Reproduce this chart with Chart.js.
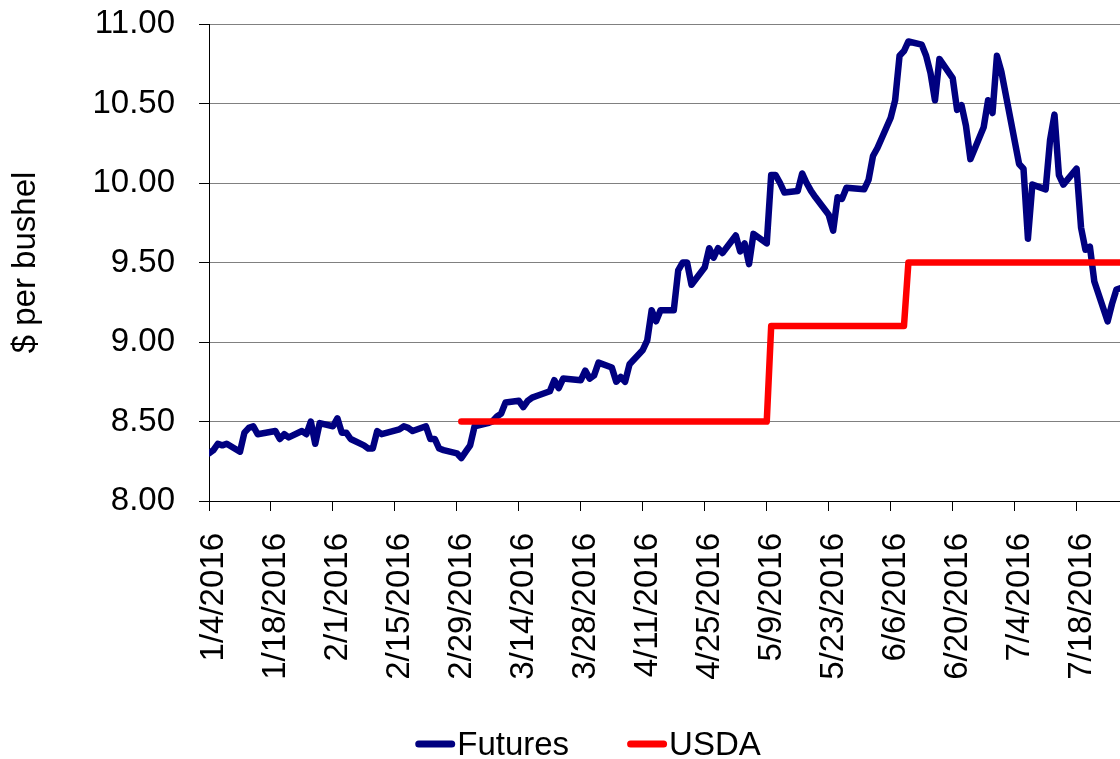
<!DOCTYPE html>
<html>
<head>
<meta charset="utf-8">
<script src="https://cdn.jsdelivr.net/npm/chart.js@4"></script>
<style>
  html, body { margin: 0; padding: 0; background: #fff; }
</style>
</head>
<body>
<canvas id="grafico" width="1120" height="759"></canvas>

<script>
// datas de pregão (2016) e preços dos futuros
const futuresDates = [
  '1/4','1/5','1/6','1/7','1/8','1/11','1/12','1/13','1/14','1/15',
  '1/19','1/20','1/21','1/22','1/25','1/26','1/27','1/28','1/29',
  '2/1','2/2','2/3','2/4','2/5','2/8','2/9','2/10','2/11','2/12',
  '2/16','2/17','2/18','2/19','2/22','2/23','2/24','2/25','2/26',
  '2/29','3/1','3/2','3/3','3/4','3/7','3/8','3/9','3/10','3/11',
  '3/14','3/15','3/16','3/17','3/18','3/21','3/22','3/23','3/24',
  '3/28','3/29','3/30','3/31','4/1','4/4','4/5','4/6','4/7','4/8',
  '4/11','4/12','4/13','4/14','4/15','4/18','4/19','4/20','4/21','4/22',
  '4/25','4/26','4/27','4/28','4/29','5/2','5/3','5/4','5/5','5/6',
  '5/9','5/10','5/11','5/12','5/13','5/16','5/17','5/18','5/19','5/20',
  '5/23','5/24','5/25','5/26','5/27','5/31','6/1','6/2','6/3',
  '6/6','6/7','6/8','6/9','6/10','6/13','6/14','6/15','6/16','6/17',
  '6/20','6/21','6/22','6/23','6/24','6/27','6/28','6/29','6/30','7/1',
  '7/5','7/6','7/7','7/8','7/11','7/12','7/13','7/14','7/15',
  '7/18','7/19','7/20','7/21','7/22','7/25','7/26','7/27','7/28'
];
const futuresValues = [
  8.30, 8.32, 8.36, 8.35, 8.36, 8.31, 8.43, 8.46, 8.47, 8.42,
  8.44, 8.39, 8.42, 8.40, 8.44, 8.42, 8.50, 8.36, 8.49,
  8.47, 8.52, 8.43, 8.43, 8.39, 8.35, 8.33, 8.33, 8.44, 8.42,
  8.45, 8.47, 8.46, 8.44, 8.47, 8.39, 8.39, 8.33, 8.32,
  8.30, 8.27, 8.31, 8.35, 8.47, 8.49, 8.50, 8.53, 8.55, 8.62,
  8.63, 8.59, 8.63, 8.65, 8.66, 8.69, 8.76, 8.71, 8.77,
  8.76, 8.82, 8.77, 8.79, 8.87, 8.84, 8.75, 8.78, 8.75, 8.86,
  8.95, 9.01, 9.20, 9.13, 9.20, 9.20, 9.45, 9.50, 9.50, 9.36,
  9.47, 9.59, 9.53, 9.59, 9.56, 9.67, 9.57, 9.62, 9.49, 9.68,
  9.62, 10.05, 10.05, 10.00, 9.94, 9.95, 10.06, 10.00, 9.95, 9.91,
  9.80, 9.70, 9.91, 9.90, 9.97, 9.96, 10.02, 10.17, 10.22,
  10.41, 10.52, 10.80, 10.83, 10.89, 10.87, 10.80, 10.69, 10.52, 10.78,
  10.66, 10.46, 10.49, 10.36, 10.15, 10.35, 10.52, 10.44, 10.80, 10.70,
  10.12, 10.09, 9.65, 9.99, 9.96, 10.27, 10.43, 10.05, 9.99,
  10.09, 9.72, 9.58, 9.60, 9.38, 9.13, 9.24, 9.33, 9.34
];

// estimativa do USDA (degraus)
const usdaDates = ['3/1','5/9','5/10','6/9','6/10','7/29'];
const usdaValues = [8.50, 8.50, 9.10, 9.10, 9.50, 9.50];

const tickLabels = [
  '1/4/2016','1/18/2016','2/1/2016','2/15/2016','2/29/2016','3/14/2016',
  '3/28/2016','4/11/2016','4/25/2016','5/9/2016','5/23/2016','6/6/2016',
  '6/20/2016','7/4/2016','7/18/2016'
];

const inicio = Date.UTC(2016, 0, 4);
function dia(s) {
  const p = s.split('/').map(Number);
  const ano = p[2] || 2016;
  return (Date.UTC(ano, p[0] - 1, p[1]) - inicio) / 86400000;
}

function pontos(datas, valores) {
  return datas.map((d, i) => ({ x: dia(d), y: valores[i] }));
}

const fonte = '"Liberation Sans", Arial, sans-serif';
Chart.defaults.font.family = fonte;
Chart.defaults.font.size = 33;
Chart.defaults.color = '#000';

// legenda com traço curto e texto colado
const legendaLinhas = {
  id: 'legendaLinhas',
  afterDraw(chart) {
    const ctx = chart.ctx;
    ctx.save();
    ctx.font = '33px ' + fonte;
    ctx.textBaseline = 'alphabetic';
    const itens = chart.data.datasets.map(ds => ({ ds, w: 42 + ctx.measureText(ds.label).width }));
    const gap = 58;
    const total = itens.reduce((s, it) => s + it.w, 0) + gap * (itens.length - 1);
    let x = 588 - total / 2;
    const y = 744;
    itens.forEach(it => {
      ctx.strokeStyle = it.ds.borderColor;
      ctx.lineWidth = 7;
      ctx.lineCap = 'round';
      ctx.beginPath();
      ctx.moveTo(x + 3.5, y);
      ctx.lineTo(x + 36.5, y);
      ctx.stroke();
      ctx.fillStyle = '#000';
      ctx.fillText(it.ds.label, x + 42, y + 11);
      x += it.w + gap;
    });
    ctx.restore();
  }
};

const ctx = document.getElementById('grafico').getContext('2d');

new Chart(ctx, {
  type: 'line',
  data: {
    datasets: [
      {
        label: 'Futures',
        data: pontos(futuresDates, futuresValues),
        borderColor: '#000080',
        backgroundColor: '#000080',
        borderWidth: 6.5,
        pointRadius: 0,
        tension: 0,
        borderJoinStyle: 'round',
        borderCapStyle: 'round',
        order: 1
      },
      {
        label: 'USDA',
        data: pontos(usdaDates, usdaValues),
        borderColor: '#ff0000',
        backgroundColor: '#ff0000',
        borderWidth: 6.5,
        pointRadius: 0,
        tension: 0,
        borderJoinStyle: 'round',
        borderCapStyle: 'round',
        order: 0
      }
    ]
  },
  options: {
    responsive: false,
    animation: false,
    layout: { padding: { top: 24, right: 0, bottom: 60, left: 0 } },
    plugins: {
      legend: { display: false },
      tooltip: { enabled: false }
    },
    scales: {
      x: {
        type: 'linear',
        min: 0,
        max: dia('7/28/2016') - 0.2,
        afterBuildTicks: s => { s.ticks = tickLabels.map(t => ({ value: dia(t) })); },
        afterFit: s => { s.height = 198; s.paddingLeft = 0; s.paddingRight = 0; },
        ticks: {
          autoSkip: false,
          minRotation: 90,
          maxRotation: 90,
          padding: 22,
          labelOffset: 5,
          callback: (v, i) => tickLabels[i]
        },
        grid: { drawOnChartArea: false, color: '#000', tickLength: 10 },
        border: { color: '#000' }
      },
      y: {
        min: 8,
        max: 11,
        afterFit: s => { s.width = 209; s.paddingTop = 0; s.paddingBottom = 0; },
        ticks: { stepSize: 0.5, padding: 24, callback: v => v.toFixed(2) },
        grid: { color: '#808080', tickColor: '#000', tickLength: 10 },
        border: { color: '#000' },
        title: { display: true, text: '$ per bushel', padding: { top: 6, bottom: 0 } }
      }
    }
  },
  plugins: [legendaLinhas]
});
</script>
</body>
</html>
